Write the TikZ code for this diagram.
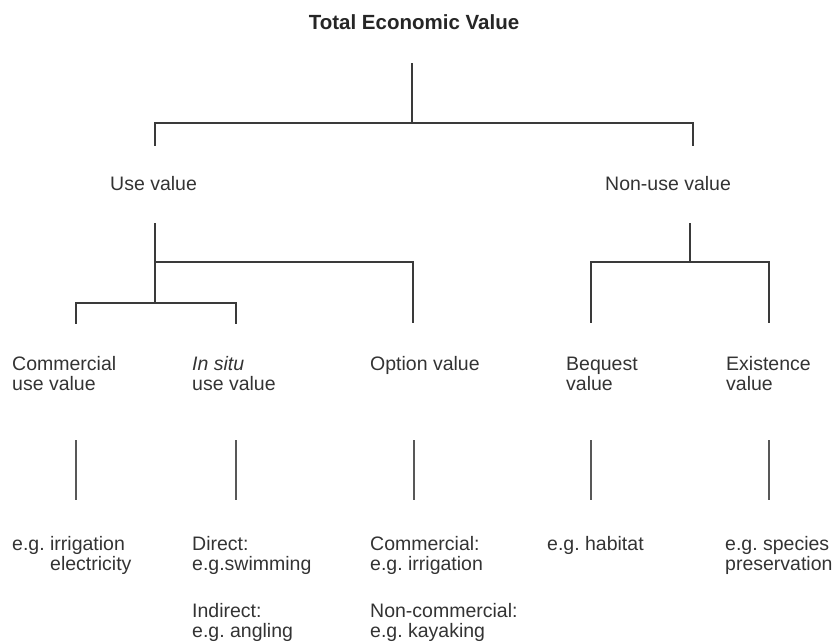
\documentclass[tikz,border=0pt]{standalone}
\usepackage{fontspec}
\setmainfont{Liberation Sans}
\frenchspacing
\definecolor{ink}{HTML}{333333}
\definecolor{linec}{HTML}{3A3A3A}
\begin{document}
\begin{tikzpicture}[x=1pt,y=-1pt,
  lbl/.style={anchor=base west,inner sep=0pt,text=ink,font=\fontsize{19.5}{20}\selectfont},
  ttl/.style={anchor=base,inner sep=0pt,text=black!85,font=\fontsize{20.5}{21}\selectfont\bfseries},
  branch/.style={draw=linec,line width=2.1pt,line cap=rect,line join=miter},
  stem/.style={draw=linec!85,line width=1.8pt}]
\useasboundingbox (0,0) rectangle (833,643);
% title
\node[ttl] (tev) at (414,29) {Total Economic Value};
% level 1
\node[lbl] (use) at (110,190) {Use value};
\node[lbl] (nonuse) at (605,190) {Non-use value};
% level 2
\node[lbl] (com1) at (12,370) {Commercial};
\node[lbl] (com2) at (12,390) {use value};
\node[lbl] (ins1) at (192,370) {\itshape In situ};
\node[lbl] (ins2) at (192,390) {use value};
\node[lbl] (opt) at (370,370) {Option value};
\node[lbl] (beq1) at (566,370) {Bequest};
\node[lbl] (beq2) at (566,390) {value};
\node[lbl] (ext1) at (726,370) {Existence};
\node[lbl] (ext2) at (726,390) {value};
% level 3
\node[lbl] (ca) at (12,550) {e.g. irrigation};
\node[lbl] (cb) at (50,570) {electricity};
\node[lbl] (ia) at (192,550) {Direct:};
\node[lbl] (ib) at (192,570) {e.g.swimming};
\node[lbl] (ic) at (192,617) {Indirect:};
\node[lbl] (id) at (192,637) {e.g. angling};
\node[lbl] (oa) at (370,550) {Commercial:};
\node[lbl] (ob) at (370,570) {e.g. irrigation};
\node[lbl] (oc) at (370,617) {Non-commercial:};
\node[lbl] (od) at (370,637) {e.g. kayaking};
\node[lbl] (ba) at (547,550) {e.g. habitat};
\node[lbl] (ea) at (725,550) {e.g. species};
\node[lbl] (eb) at (725,570) {preservation};
% connector coordinates
\coordinate (t0) at (412,64);
\coordinate (tj) at (412,123);
\coordinate (tl) at (155,123);
\coordinate (tr) at (693,123);
\coordinate (tld) at (155,145);
\coordinate (trd) at (693,145);
\coordinate (u0) at (155,224);
\coordinate (uj) at (155,262);
\coordinate (uk) at (155,303);
\coordinate (o1) at (413,262);
\coordinate (o2) at (413,322);
\coordinate (cl) at (76,303);
\coordinate (cr) at (236,303);
\coordinate (cld) at (76,323);
\coordinate (crd) at (236,323);
\coordinate (n0) at (690,224);
\coordinate (nj) at (690,262);
\coordinate (nl) at (591,262);
\coordinate (nr) at (769,262);
\coordinate (nld) at (591,322);
\coordinate (nrd) at (769,322);
% tree connectors
\draw[branch] (t0) -- (tj);
\draw[branch] (tld) -- (tl) -- (tr) -- (trd);
\draw[branch] (u0) -- (uk);
\draw[branch] (uj) -- (o1) -- (o2);
\draw[branch] (cld) -- (cl) -- (cr) -- (crd);
\draw[branch] (n0) -- (nj);
\draw[branch] (nld) -- (nl) -- (nr) -- (nrd);
% stems to examples
\foreach \n/\x in {s1/76,s2/236,s3/414,s4/591,s5/769}{
  \coordinate (\n a) at (\x,440);
  \coordinate (\n b) at (\x,500);
  \draw[stem] (\n a) -- (\n b);
}
\end{tikzpicture}
\end{document}
